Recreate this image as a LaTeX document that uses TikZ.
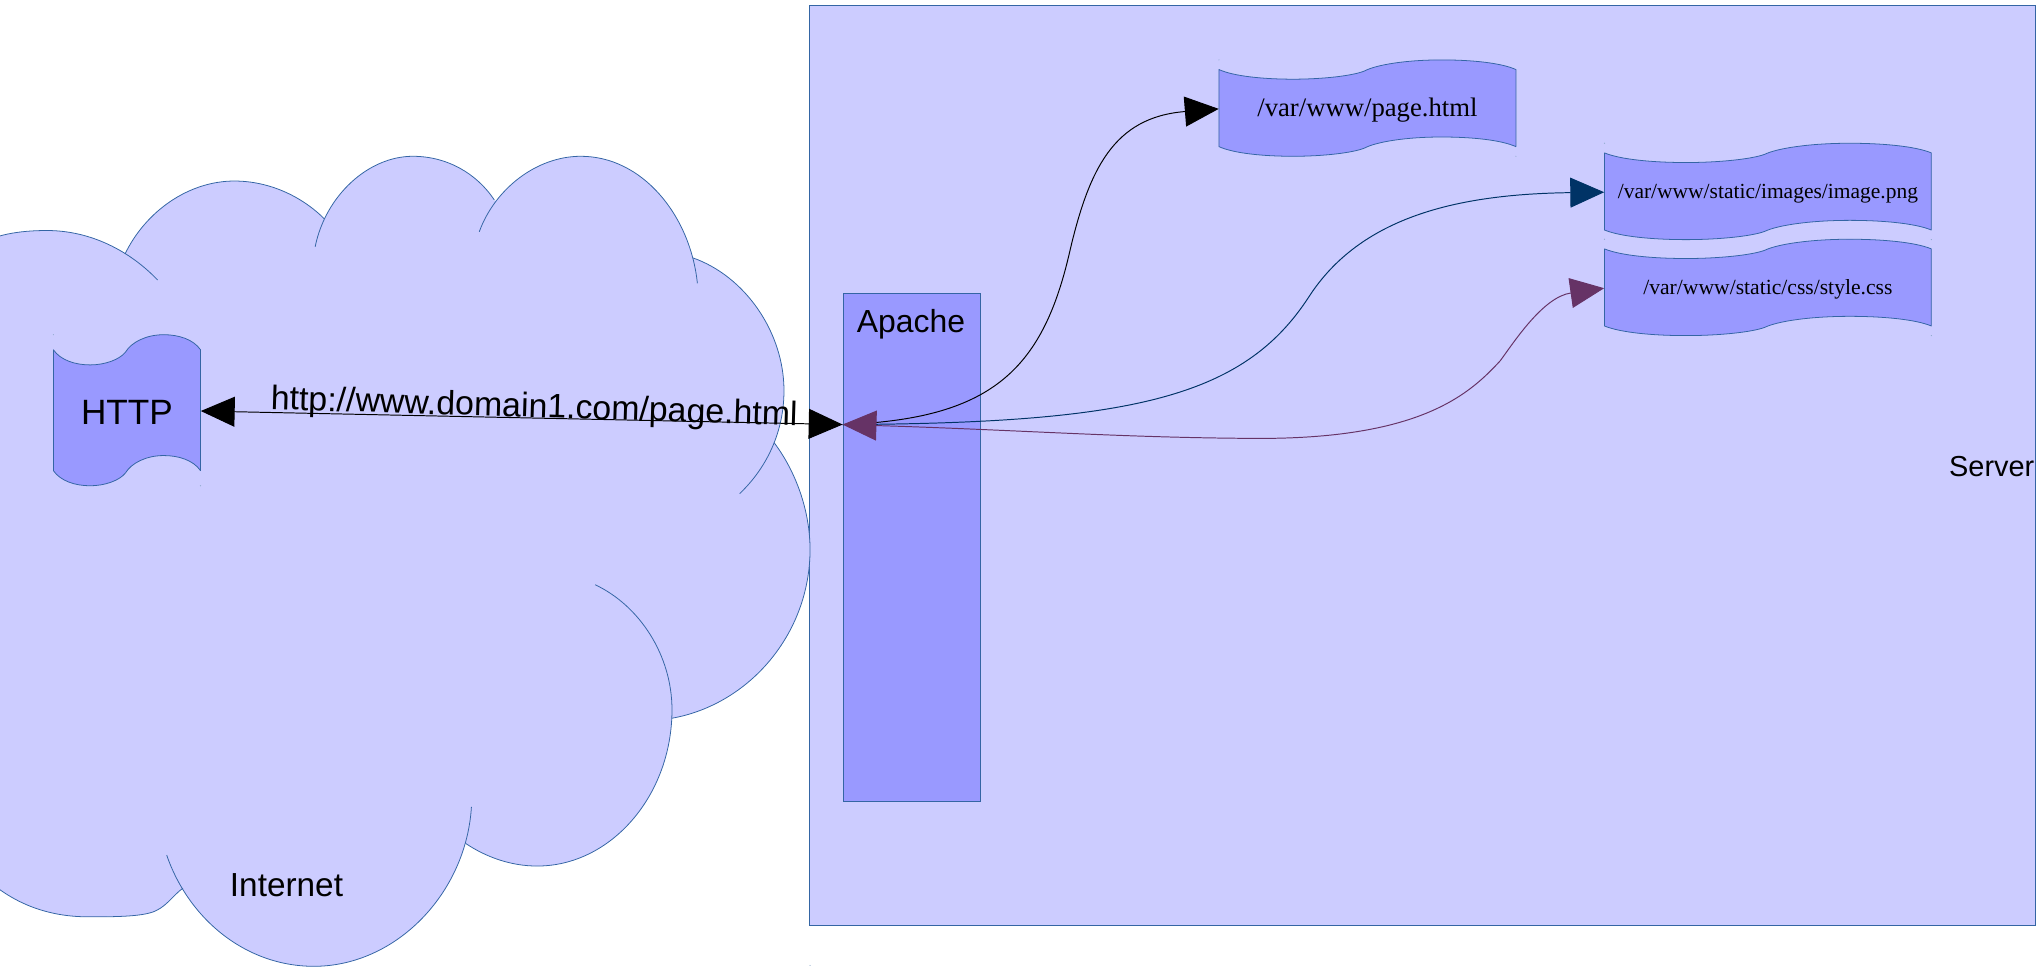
\documentclass[tikz,border=0pt]{standalone}
\usepackage{fontspec}
\setmainfont{Liberation Serif}
\setsansfont{Liberation Sans}
\usetikzlibrary{arrows.meta}
\definecolor{lightfill}{HTML}{CCCCFF}
\definecolor{boxfill}{HTML}{9999FF}
\definecolor{edgeblue}{HTML}{3465A4}
\definecolor{linkblue}{HTML}{003366}
\definecolor{linkpurple}{HTML}{663366}
\tikzset{
  outline/.style={draw=edgeblue,line width=0.6pt},
  cloudfill/.style={fill=lightfill,draw=none},
  cloudline/.style={draw=edgeblue,line width=0.6pt,fill=none},
  tapebox/.style={outline,fill=boxfill,line join=round},
  tapetext/.style={inner sep=0pt,text=black},
  link/.style={line width=0.75pt,arrows={-Triangle[length=26pt,width=23pt]}},
  linkboth/.style={line width=0.75pt,arrows={Triangle[length=26pt,width=23pt]-Triangle[length=26pt,width=23pt]}},
  speck/.style={fill=edgeblue!55,draw=none},
}
\newcommand{\tapeshape}[7]{%
  \begin{scope}[shift={(#2,#3)},x=#4pt,y=-#5pt]
    \path[tapebox] (0,.1) .. controls (.05,.17) and (.15,.2) .. (.25,.2)
      .. controls (.35,.2) and (.45,.165) .. (.49,.115)
      .. controls (.53,.05) and (.63,0) .. (.75,0)
      .. controls (.85,0) and (.95,.03) .. (1,.1)
      -- (1,.9)
      .. controls (.95,.83) and (.85,.8) .. (.75,.8)
      .. controls (.63,.8) and (.53,.85) .. (.49,.915)
      .. controls (.45,.965) and (.35,1) .. (.25,1)
      .. controls (.15,1) and (.05,.97) .. (0,.9)
      -- cycle;
  \end{scope}
  \fill[speck] (#2,#3) circle[radius=0.45];
  \fill[speck] ({#2+#4},{#3+#5}) circle[radius=0.45];
  \node[tapetext,minimum width=#4pt,minimum height=#5pt] (#1) at ({#2+#4/2},{#3+#5/2+0.6}) {};
  \node[tapetext] (#1label) at ({#2+#4/2},{#3+#5/2+1.6}) {#6#7};
}
\begin{document}
\begin{tikzpicture}[x=1pt,y=-1pt]
\useasboundingbox (0,0) rectangle (1568,742);
% server
\node[outline,fill=lightfill,minimum width=941.5pt,minimum height=706pt,inner sep=0pt,anchor=north west] (server) at (621.3,4.2) {};
\node[outline,fill=boxfill,minimum width=105.5pt,minimum height=390pt,inner sep=0pt,anchor=north west] (apache) at (647,225) {};
\node[inner sep=0pt,font=\sffamily\fontsize{24.5}{28}\selectfont] (apachelabel) at (699.5,249) {Apache};
\node[inner sep=0pt,font=\sffamily\fontsize{22.2}{26}\selectfont,anchor=east] (serverlabel) at (1562.3,358) {Server};
% cloud fill
\fill[cloudfill] (-20,190) -- (96,195) -- (180,160) -- (249,168) -- (317,140) -- (380,154) -- (446,150) -- (532,198) -- (575,260) -- (594.5,340) -- (610,430) -- (516,551.5) -- (470,620) -- (357.5,647.6) -- (241,700) -- (140.5,682) -- (60,695) -- (0,683.5) -- (-20,670) -- cycle;
\fill[cloudfill] (-20,190) .. controls (-5,180) and (15,177) .. (36,177) .. controls (70,177) and (100,193) .. (121,215) -- cycle;
\fill[cloudfill] (96,195) .. controls (112,162) and (145,139) .. (180,139) .. controls (207,139) and (232,151) .. (249,168) -- cycle;
\fill[cloudfill] (242,189.5) .. controls (250,150) and (283,120) .. (317,120) .. controls (343,120) and (366,133) .. (379.6,153.6) -- cycle;
\fill[cloudfill] (368,178) .. controls (380,145) and (412,120) .. (446,120) .. controls (493,120) and (530,165) .. (535.5,217.5) -- cycle;
\fill[cloudfill] (532,198) .. controls (572,212) and (602,255) .. (602,300) .. controls (602,330) and (590,358) .. (568,379) -- cycle;
\fill[cloudfill] (594.5,340) .. controls (611,362) and (622,392) .. (622,422) .. controls (622,487) and (575,541) .. (516,551.5) -- cycle;
\fill[cloudfill] (457,449) .. controls (491,465) and (516,503) .. (516,545) .. controls (516,611) and (469,665) .. (412.5,665) .. controls (392,665) and (373,658) .. (357.5,647.6) -- cycle;
\fill[cloudfill] (362,619.5) .. controls (358,686) and (304,742) .. (241,742) .. controls (189,742) and (145,706) .. (128,656.6) -- cycle;
\fill[cloudfill] (140.5,682) .. controls (132,688) and (127,698) .. (115,701) .. controls (104,704) and (85,704) .. (68,704) .. controls (42,704) and (18,697) .. (-3,681) -- (-20,670) -- cycle;
% cloud outlines
\draw[cloudline] (-20,190) .. controls (-5,180) and (15,177) .. (36,177) .. controls (70,177) and (100,193) .. (121,215);
\draw[cloudline] (96,195) .. controls (112,162) and (145,139) .. (180,139) .. controls (207,139) and (232,151) .. (249,168);
\draw[cloudline] (242,189.5) .. controls (250,150) and (283,120) .. (317,120) .. controls (343,120) and (366,133) .. (379.6,153.6);
\draw[cloudline] (368,178) .. controls (380,145) and (412,120) .. (446,120) .. controls (493,120) and (530,165) .. (535.5,217.5);
\draw[cloudline] (532,198) .. controls (572,212) and (602,255) .. (602,300) .. controls (602,330) and (590,358) .. (568,379);
\draw[cloudline] (594.5,340) .. controls (611,362) and (622,392) .. (622,422) .. controls (622,487) and (575,541) .. (516,551.5);
\draw[cloudline] (457,449) .. controls (491,465) and (516,503) .. (516,545) .. controls (516,611) and (469,665) .. (412.5,665) .. controls (392,665) and (373,658) .. (357.5,647.6);
\draw[cloudline] (362,619.5) .. controls (358,686) and (304,742) .. (241,742) .. controls (189,742) and (145,706) .. (128,656.6);
\draw[cloudline] (140.5,682) .. controls (132,688) and (127,698) .. (115,701) .. controls (104,704) and (85,704) .. (68,704) .. controls (42,704) and (18,697) .. (-3,681);
\node[inner sep=0pt,font=\sffamily\fontsize{25.6}{30}\selectfont] (internetlabel) at (220,680) {Internet};
% tapes
\tapeshape{http}{41}{257}{113}{116}{\sffamily\fontsize{27}{32}\selectfont}{HTTP}
\tapeshape{page}{936}{46}{228}{74}{\fontsize{20.5}{24}\selectfont}{/var/www/page.html}
\tapeshape{image}{1232}{110}{251}{74}{\fontsize{16.5}{20}\selectfont}{/var/www/static/images/image.png}
\tapeshape{css}{1232}{183.7}{251}{74}{\fontsize{16.6}{20}\selectfont}{/var/www/static/css/style.css}
% connector ends
\coordinate (apachein) at (647,326);
% connectors
\draw[linkboth,black] (http.east) -- (apachein);
\draw[link,black] (apachein) .. controls (760,322) and (800,285) .. (821,195) .. controls (836,130) and (855,90) .. (page.west);
\draw[link,linkblue] (apachein) .. controls (870,325) and (955,305) .. (1005,228) .. controls (1045,166) and (1120,149) .. (image.west);
\draw[linkboth,linkpurple] (apachein) .. controls (780,330) and (860,336) .. (960,336.6) .. controls (1090,338) and (1128,303) .. (1152,277) .. controls (1163,262) and (1185,228) .. (css.west);
\node[inner sep=0pt,anchor=base,rotate=-1.75,font=\sffamily\fontsize{26}{30}\selectfont] (urllabel) at (410,320.5) {http://www.domain1.com/page.html};
\fill[speck] (622,741.3) circle[radius=0.45];
\end{tikzpicture}
\end{document}
